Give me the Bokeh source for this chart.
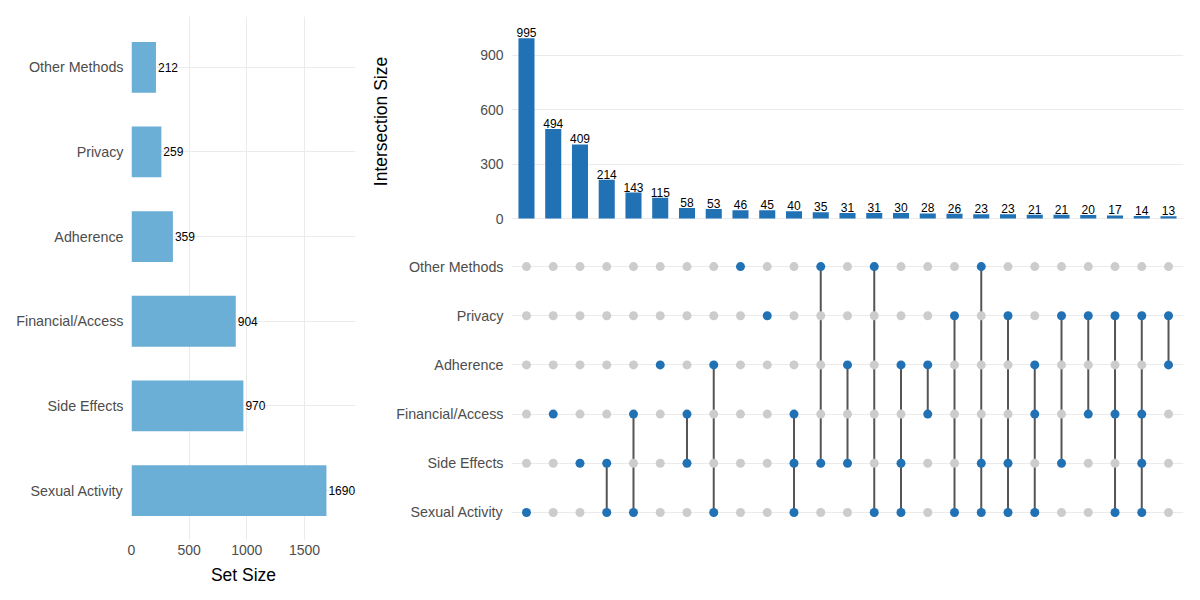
from bokeh.plotting import figure
from bokeh.layouts import row, column
from bokeh.models import FixedTicker, Range1d, ColumnDataSource
from bokeh.embed import file_html
from bokeh.resources import INLINE
from bokeh.core.properties import value

# ---------------- data ----------------
sets = ["Sexual Activity", "Side Effects", "Financial/Access", "Adherence", "Privacy", "Other Methods"]
set_sizes = [1690, 970, 904, 359, 259, 212]

intersection_sizes = [995, 494, 409, 214, 143, 115, 58, 53, 46, 45, 40, 35, 31, 31,
                      30, 28, 26, 23, 23, 21, 21, 20, 17, 14, 13]
intersection_members = [
    ["Sexual Activity"],
    ["Financial/Access"],
    ["Side Effects"],
    ["Side Effects", "Sexual Activity"],
    ["Financial/Access", "Sexual Activity"],
    ["Adherence"],
    ["Financial/Access", "Side Effects"],
    ["Adherence", "Sexual Activity"],
    ["Other Methods"],
    ["Privacy"],
    ["Financial/Access", "Side Effects", "Sexual Activity"],
    ["Other Methods", "Side Effects"],
    ["Adherence", "Side Effects"],
    ["Other Methods", "Sexual Activity"],
    ["Adherence", "Side Effects", "Sexual Activity"],
    ["Adherence", "Financial/Access"],
    ["Privacy", "Sexual Activity"],
    ["Other Methods", "Side Effects", "Sexual Activity"],
    ["Privacy", "Side Effects", "Sexual Activity"],
    ["Adherence", "Financial/Access", "Sexual Activity"],
    ["Privacy", "Side Effects"],
    ["Privacy", "Financial/Access"],
    ["Privacy", "Financial/Access", "Sexual Activity"],
    ["Privacy", "Financial/Access", "Side Effects", "Sexual Activity"],
    ["Privacy", "Adherence"],
]
set_ticks = [0, 500, 1000, 1500]
inter_ticks = [0, 300, 600, 900]

# ---------------- style ----------------
FONT = "Liberation Sans"
GRID = "#EBEBEB"
TICK_COL = "#4D4D4D"
LIGHT_BLUE = "#6BAED6"
BLUE = "#2171B5"
GRAY_DOT = "#CCCCCC"
LINE_COL = "#555555"

def style(p):
    p.outline_line_color = None
    p.background_fill_color = "white"
    p.border_fill_color = "white"
    for ax in p.axis:
        ax.axis_line_color = None
        ax.major_tick_line_color = None
        ax.minor_tick_line_color = None
        ax.major_tick_out = 0
        ax.major_tick_in = 0
        ax.minor_tick_out = 0
        ax.major_label_text_font = FONT
        ax.major_label_text_font_size = "14px"
        ax.major_label_text_color = TICK_COL
        ax.axis_label_text_font = FONT
        ax.axis_label_text_font_size = "17.5px"
        ax.axis_label_text_font_style = "normal"
        ax.axis_label_text_color = "black"

n_sets = len(sets)
set_idx = list(range(n_sets))
labels_map = {i: s for i, s in enumerate(sets)}

# ---------------- left: set sizes ----------------
left = figure(width=368, height=592, output_backend="svg", toolbar_location=None,
              x_range=Range1d(0, 1942), y_range=Range1d(-0.59, 5.6),
              min_border_left=131, min_border_right=13, min_border_top=16, min_border_bottom=52)
src_l = ColumnDataSource(dict(y=set_idx, right=set_sizes, lab=[str(v) for v in set_sizes]))
left.hbar(y="y", right="right", left=0, height=0.6, source=src_l,
          fill_color=LIGHT_BLUE, line_color=None)
left.text(x="right", y="y", text="lab", source=src_l, x_offset=2,
          text_align="left", text_baseline="middle", text_font_size="12px",
          text_font=value(FONT), text_color="black")
left.xaxis.ticker = FixedTicker(ticks=set_ticks)
left.yaxis.ticker = FixedTicker(ticks=set_idx)
left.yaxis.major_label_overrides = labels_map
left.xaxis.axis_label = "Set Size"
left.xgrid.ticker = FixedTicker(ticks=set_ticks)
left.xgrid.grid_line_color = GRID
left.ygrid.ticker = FixedTicker(ticks=set_idx)
left.ygrid.grid_line_color = GRID
style(left)
left.yaxis.major_label_text_font_size = "14.3px"
left.xaxis.major_label_standoff = 4
left.xaxis.axis_label_standoff = 7
left.yaxis.major_label_standoff = 8

# ---------------- top right: intersection sizes ----------------
n_int = len(intersection_sizes)
cols = list(range(n_int))
xr = Range1d(-0.56, n_int - 1 + 0.56)

top = figure(width=824, height=234, output_backend="svg", toolbar_location=None,
             x_range=xr, y_range=Range1d(-44, 1115), x_axis_location=None,
             min_border_left=142, min_border_right=9, min_border_top=16, min_border_bottom=8)
src_t = ColumnDataSource(dict(x=cols, top=intersection_sizes, lab=[str(v) for v in intersection_sizes]))
top.vbar(x="x", top="top", bottom=0, width=0.6, source=src_t, fill_color=BLUE, line_color=None)
top.text(x="x", y="top", text="lab", source=src_t, y_offset=-1,
         text_align="center", text_baseline="bottom", text_font_size="12px",
         text_font=value(FONT), text_color="black")
top.yaxis.ticker = FixedTicker(ticks=inter_ticks)
top.yaxis.axis_label = "Intersection Size"
top.ygrid.ticker = FixedTicker(ticks=inter_ticks)
top.ygrid.grid_line_color = GRID
top.xgrid.grid_line_color = None
style(top)
top.yaxis.major_label_standoff = 8
top.yaxis.axis_label_standoff = 86

# ---------------- bottom right: matrix ----------------
mat = figure(width=824, height=358, output_backend="svg", toolbar_location=None,
             x_range=xr, y_range=Range1d(-0.57, 5.53), x_axis_location=None,
             min_border_left=142, min_border_right=9, min_border_top=6, min_border_bottom=52)

gx, gy, bx, by = [], [], [], []
sx, sy0, sy1 = [], [], []
for c, members in enumerate(intersection_members):
    mi = [sets.index(m) for m in members]
    for r in set_idx:
        if r in mi:
            bx.append(c); by.append(r)
        else:
            gx.append(c); gy.append(r)
    if len(mi) > 1:
        sx.append(c); sy0.append(min(mi)); sy1.append(max(mi))

mat.segment(x0=sx, y0=sy0, x1=sx, y1=sy1, line_color=LINE_COL, line_width=2)
mat.scatter(x=gx, y=gy, size=9, fill_color=GRAY_DOT, line_color=None)
mat.scatter(x=bx, y=by, size=9, fill_color=BLUE, line_color=None)
mat.yaxis.ticker = FixedTicker(ticks=set_idx)
mat.yaxis.major_label_overrides = labels_map
mat.ygrid.ticker = FixedTicker(ticks=set_idx)
mat.ygrid.grid_line_color = GRID
mat.xgrid.grid_line_color = None
style(mat)
mat.yaxis.major_label_text_font_size = "14.3px"
mat.yaxis.major_label_standoff = 8

layout = row(left, column(top, mat, spacing=0), spacing=0)
open("out.html", "w").write(file_html(layout, INLINE))
